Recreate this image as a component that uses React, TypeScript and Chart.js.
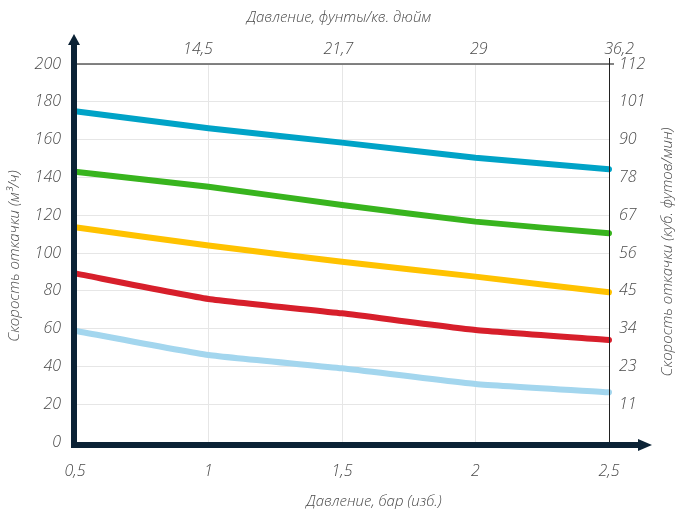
import React, { useEffect, useRef } from 'react';
import { Chart, registerables } from 'chart.js';

Chart.register(...registerables);

// ---- data ----
const pressureBar = [0.5, 1, 1.5, 2, 2.5];
const psiLabels = ['', '14,5', '21,7', '29', '36,2'];
const flowTicks = [0, 20, 40, 60, 80, 100, 120, 140, 160, 180, 200];
const cfmLabels = ['', '11', '23', '34', '45', '56', '67', '78', '90', '101', '112'];

const seriesBlue = [175, 166, 158.4, 150.4, 144.3];
const seriesGreen = [143, 135, 125.4, 116.6, 110.4];
const seriesYellow = [113.6, 104, 95.4, 87.5, 79.2];
const seriesRed = [89.2, 75.7, 68.1, 59.3, 54];
const seriesLightBlue = [58.9, 46, 39, 30.7, 26.3];

const titleTop = 'Давление, фунты/кв. дюйм';
const titleBottom = 'Давление, бар (изб.)';
const titleLeft = 'Скорость откачки (м³/ч)';
const titleRight = 'Скорость откачки (куб. футов/мин)';

const NAVY = '#0b2235';
const TEXT = '#4a4a4a';
const FONT_FAMILY = '"Open Sans", "DejaVu Sans", sans-serif';

const mk = (data: number[], color: string) => ({
  data: pressureBar.map((x, i) => ({ x, y: data[i] })),
  borderColor: color,
  backgroundColor: color,
  borderWidth: 6,
  borderCapStyle: 'round' as const,
  borderJoinStyle: 'round' as const,
  pointRadius: 0,
  tension: 0.15,
  clip: false as const,
  xAxisID: 'x',
  yAxisID: 'y',
});

const decorPlugin = {
  id: 'decor',
  afterDatasetsDraw(chart: any) {
    const { ctx } = chart;
    const { left, right, top, bottom } = chart.chartArea;
    ctx.save();
    // top border
    ctx.strokeStyle = '#5a5a5a';
    ctx.lineWidth = 1.5;
    ctx.beginPath();
    ctx.moveTo(left, top);
    ctx.lineTo(right + 5, top);
    ctx.stroke();
    // right axis
    ctx.strokeStyle = '#222';
    ctx.lineWidth = 1;
    ctx.beginPath();
    ctx.moveTo(right + 0.5, top - 6);
    ctx.lineTo(right + 0.5, bottom);
    ctx.stroke();
    // left thick axis with arrow
    ctx.fillStyle = NAVY;
    ctx.fillRect(left - 4, top - 20, 6, bottom - top + 26);
    ctx.beginPath();
    ctx.moveTo(left - 1, top - 30);
    ctx.lineTo(left - 7, top - 19);
    ctx.lineTo(left + 5, top - 19);
    ctx.closePath();
    ctx.fill();
    // bottom thick axis with arrow
    ctx.fillRect(left - 4, bottom, right - left + 33, 6);
    ctx.beginPath();
    ctx.moveTo(right + 43, bottom + 3);
    ctx.lineTo(right + 29, bottom - 3);
    ctx.lineTo(right + 29, bottom + 9);
    ctx.closePath();
    ctx.fill();
    ctx.restore();
  },
  afterDraw(chart: any) {
    const { ctx } = chart;
    ctx.save();
    ctx.fillStyle = TEXT;
    ctx.font = `italic 300 15px ${FONT_FAMILY}`;
    ctx.textAlign = 'center';
    ctx.textBaseline = 'middle';
    ctx.fillText(titleTop, 339, 18);
    ctx.fillText(titleBottom, 374, 502);
    ctx.save();
    ctx.translate(15, 256);
    ctx.rotate(-Math.PI / 2);
    ctx.fillText(titleLeft, 0, 0);
    ctx.restore();
    ctx.save();
    ctx.translate(668, 252);
    ctx.rotate(-Math.PI / 2);
    ctx.fillText(titleRight, 0, 0);
    ctx.restore();
    ctx.restore();
  },
};

export default function App() {
  const ref = useRef<HTMLCanvasElement | null>(null);
  useEffect(() => {
    if (!ref.current) return;
    const tickFont = { family: FONT_FAMILY, size: 16, style: 'italic' as const, weight: 300 as any };
    const chart = new Chart(ref.current, {
      type: 'line',
      data: {
        datasets: [
          mk(seriesBlue, '#00a3c7'),
          mk(seriesGreen, '#38b41e'),
          mk(seriesYellow, '#ffc200'),
          mk(seriesRed, '#d71f2b'),
          mk(seriesLightBlue, '#a3d6ee'),
        ],
      },
      options: {
        animation: false,
        responsive: false,
        layout: { padding: 0 },
        plugins: { legend: { display: false }, tooltip: { enabled: false } },
        scales: {
          x: {
            type: 'linear',
            position: 'bottom',
            min: pressureBar[0],
            max: pressureBar[pressureBar.length - 1],
            afterBuildTicks: (s: any) => { s.ticks = pressureBar.map((v) => ({ value: v })); },
            ticks: {
              color: TEXT,
              font: tickFont,
              padding: 20,
              maxRotation: 0,
              autoSkip: false,
              callback: (v: any) => String(v).replace('.', ','),
            },
            grid: { color: '#e6e6e6', lineWidth: 1, drawTicks: false },
            border: { display: false },
            afterFit: (s: any) => { s.height = 71; },
          },
          x2: {
            type: 'linear',
            position: 'top',
            min: 0.562,
            max: 2.464,
            afterBuildTicks: (s: any) => { s.ticks = pressureBar.map((v) => ({ value: v })); },
            ticks: {
              color: TEXT,
              font: tickFont,
              padding: 5,
              maxRotation: 0,
              autoSkip: false,
              callback: (v: any, i: number) => psiLabels[i],
            },
            grid: { display: false, drawTicks: false },
            border: { display: false },
            afterFit: (s: any) => { s.height = 64; },
          },
          y: {
            type: 'linear',
            position: 'left',
            min: 0,
            max: 200,
            afterBuildTicks: (s: any) => { s.ticks = flowTicks.map((v) => ({ value: v })); },
            ticks: { color: TEXT, font: tickFont, padding: 14, autoSkip: false },
            grid: { color: '#e6e6e6', lineWidth: 1, drawTicks: false },
            border: { display: false },
            afterFit: (s: any) => { s.width = 75; },
          },
          y2: {
            type: 'linear',
            position: 'right',
            min: 0,
            max: 200,
            afterBuildTicks: (s: any) => { s.ticks = flowTicks.map((v) => ({ value: v })); },
            ticks: {
              color: TEXT,
              font: tickFont,
              padding: 10,
              autoSkip: false,
              callback: (v: any, i: number) => cfmLabels[i],
            },
            grid: { display: false, drawTicks: false },
            border: { display: false },
            afterFit: (s: any) => { s.width = 70; },
          },
        },
      },
      plugins: [decorPlugin],
    });
    return () => chart.destroy();
  }, []);
  return (
    <div style={{ position: 'absolute', left: 0, top: 0, width: 679, height: 513 }}>
      <canvas ref={ref} width={679} height={513} style={{ display: 'block' }} />
    </div>
  );
}
